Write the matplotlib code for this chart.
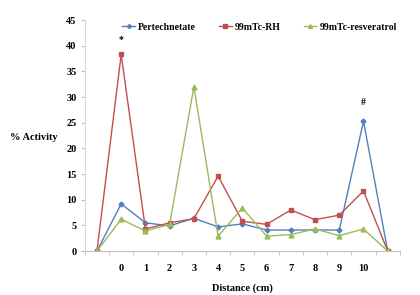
import numpy as np
import matplotlib
matplotlib.use('Agg')
import matplotlib.pyplot as plt

plt.rcParams['font.family'] = ['Liberation Serif', 'DejaVu Serif']
plt.rcParams['font.weight'] = 'bold'

# categories along the x axis (blank at both ends)
categories = ['', '0', '1', '2', '3', '4', '5', '6', '7', '8', '9', '10', '']
pertechnetate = [0, 9.2, 5.5, 4.9, 6.4, 4.7, 5.3, 4.1, 4.1, 4.1, 4.1, 25.3, 0]
tc_rh = [0, 38.3, 4.3, 5.5, 6.3, 14.6, 5.8, 5.2, 8.0, 6.1, 7.0, 11.7, 0]
tc_resveratrol = [0, 6.2, 3.9, 5.2, 32.0, 2.9, 8.4, 2.9, 3.2, 4.3, 3.0, 4.3, 0]

blue = '#4F81BD'
red = '#C0504D'
green = '#9BBB59'

x = np.arange(len(categories))

fig = plt.figure(figsize=(4.2, 2.95), dpi=100)
ax = fig.add_axes([0.202, 0.149, 0.75, 0.783])

ax.plot(x, pertechnetate, color=blue, marker='D', markersize=2.5, lw=1.0, label='Pertechnetate')
ax.plot(x, tc_rh, color=red, marker='s', markersize=3.5, lw=1.0, label='99mTc-RH')
ax.plot(x, tc_resveratrol, color=green, marker='^', markersize=3.5, lw=1.0, label='99mTc-resveratrol')

# significance marks
ax.text(x[1], tc_rh[1] + 2, '*', ha='center', va='bottom', fontsize=7, fontweight='bold')
ax.text(x[11], pertechnetate[11] + 2.8, '#', ha='center', va='bottom', fontsize=7, fontweight='bold')

ax.set_xlim(-0.5, len(categories) - 0.5)
ax.set_ylim(0, 45)
ax.set_yticks(np.arange(0, 46, 5))
ax.set_xticks(x)
ax.set_xticklabels(categories)
ax.set_xticks(np.arange(-0.5, len(categories), 1), minor=True)
ax.tick_params(axis='x', which='major', length=0, pad=9, labelsize=7.5)
ax.tick_params(axis='x', which='minor', length=3, color='#BFBFBF')
ax.tick_params(axis='y', length=3, color='#BFBFBF', labelsize=7.5, pad=3)

for s in ['top', 'right']:
    ax.spines[s].set_visible(False)
ax.spines['left'].set_color('#D9D9D9')
ax.spines['bottom'].set_color('#BFBFBF')

ax.set_xlabel('Distance (cm)', fontsize=7.5, fontweight='bold', labelpad=8)
fig.text(0.08, 0.535, '% Activity', ha='center', va='center', fontsize=7.5, fontweight='bold')

fig.legend(loc='center left', bbox_to_anchor=(0.275, 0.908), ncol=3, frameon=False,
           handlelength=1.3, columnspacing=2.4, handletextpad=0.3, borderpad=0.2,
           markerscale=0.8, prop={'weight': 'bold', 'size': 7})

fig.savefig('out.png', dpi=100)
